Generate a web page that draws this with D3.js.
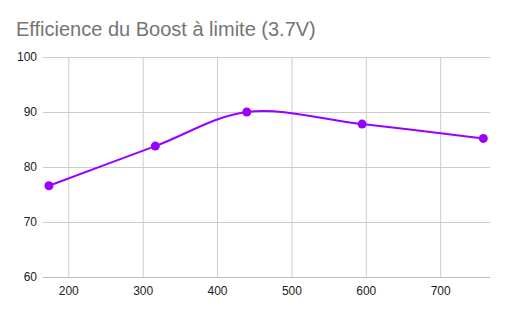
<!DOCTYPE html>
<html>
<head>
<meta charset="utf-8">
<script src="https://cdn.jsdelivr.net/npm/d3@7"></script>
<style>
  body { margin: 0; background: #fff; }
  text { font-family: Arial, "Liberation Sans", sans-serif; }
</style>
</head>
<body>
<div id="chart"></div>
<script>
// data
const titleText = "Efficience du Boost à limite (3.7V)";
const xValues = [174, 317, 440, 595, 758];
const yValues = [76.6, 83.8, 90, 87.8, 85.2];
const xTicks = [200, 300, 400, 500, 600, 700];
const yTicks = [60, 70, 80, 90, 100];

const w = 506;
const h = 313;
const padL = 43, padR = 490, padT = 57, padB = 277;

const svg = d3.select("#chart")
    .append("svg")
    .attr("width", w)
    .attr("height", h);

const xScale = d3.scaleLinear()
    .domain([166, 767])
    .range([padL, padR]);

const yScale = d3.scaleLinear()
    .domain([60, 100])
    .range([padB, padT]);

//title
svg.append("text")
    .attr("x", 16)
    .attr("y", 36)
    .attr("font-size", 20)
    .attr("fill", "#757575")
    .text(titleText);

//vertical gridlines + x labels
const xAxis = d3.axisBottom(xScale)
    .tickValues(xTicks)
    .tickSize(-(padB - padT))
    .tickPadding(9);

svg.append("g")
    .attr("transform", "translate(0," + padB + ")")
    .call(xAxis)
    .call(g => g.select(".domain").remove())
    .call(g => g.selectAll("line").attr("stroke", "#cccccc"))
    .call(g => g.selectAll("text").attr("font-size", 12).attr("fill", "#222"));

//horizontal gridlines + y labels
const yAxis = d3.axisLeft(yScale)
    .tickValues(yTicks)
    .tickSize(0)
    .tickPadding(6);

svg.append("g")
    .attr("transform", "translate(" + padL + ",0)")
    .call(yAxis)
    .call(g => g.select(".domain").remove())
    .call(g => g.selectAll("text").attr("font-size", 12).attr("fill", "#222"));

svg.append("g")
    .selectAll("line")
    .data(yTicks)
    .enter()
    .append("line")
    .attr("x1", padL)
    .attr("x2", padR)
    .attr("y1", d => yScale(d) + 0.5)
    .attr("y2", d => yScale(d) + 0.5)
    .attr("stroke", d => d == 60 ? "#bbbbbb" : "#cccccc");

//the curve
const pts = xValues.map((x, i) => [x, yValues[i]]);

const line = d3.line()
    .x(d => xScale(d[0]))
    .y(d => yScale(d[1]))
    .curve(d3.curveCatmullRom.alpha(0.5));

svg.append("path")
    .datum(pts)
    .attr("d", line)
    .attr("fill", "none")
    .attr("stroke", "#9900ff")
    .attr("stroke-width", 2);

svg.selectAll("circle")
    .data(pts)
    .enter()
    .append("circle")
    .attr("cx", d => xScale(d[0]))
    .attr("cy", d => yScale(d[1]))
    .attr("r", 4.5)
    .attr("fill", "#9900ff");
</script>
</body>
</html>
